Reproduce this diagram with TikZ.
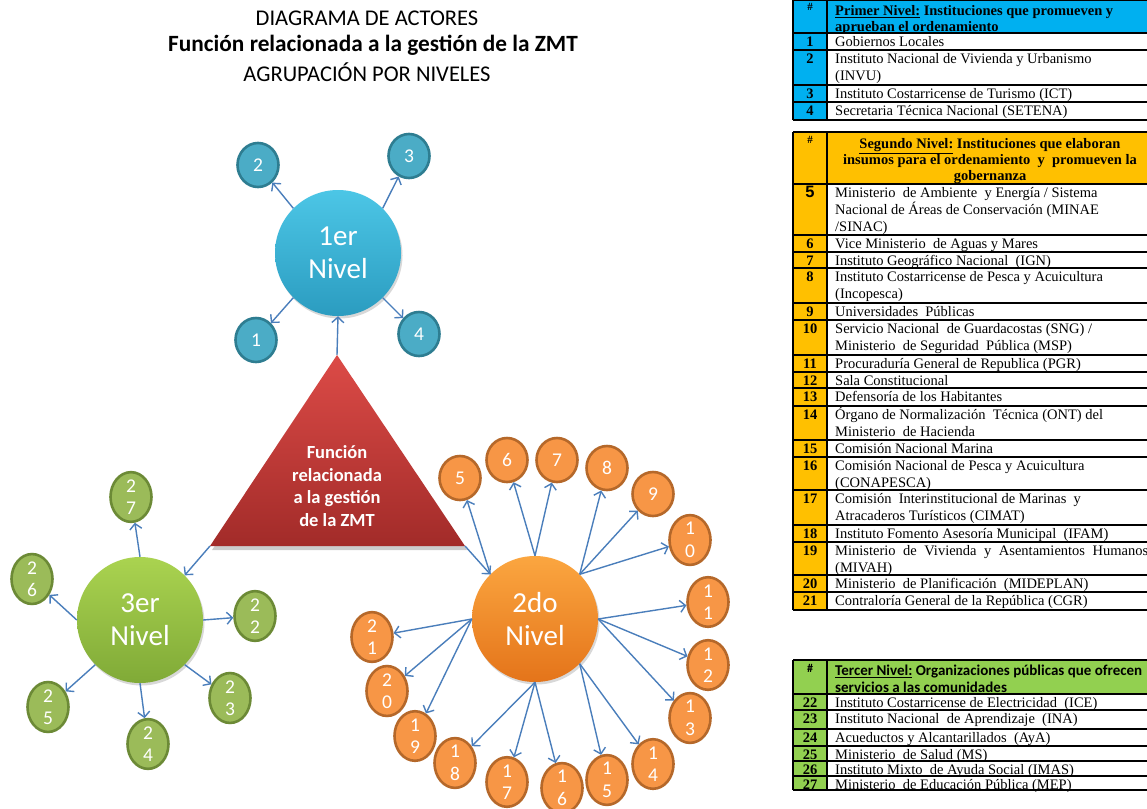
\documentclass[tikz,border=0pt]{standalone}
\usepackage{fontspec}
\setmainfont{Liberation Serif}
\newfontfamily\calib{Carlito}
\newfontfamily\arialf{Liberation Sans}
\usetikzlibrary{arrows.meta,shapes.geometric,shadows}
\definecolor{tblue}{HTML}{00B0F0}
\definecolor{torange}{HTML}{FFC000}
\definecolor{tgreen}{HTML}{92D050}
\definecolor{arrowblue}{HTML}{4A7EBB}
\definecolor{bTop}{HTML}{4CC6E6}
\definecolor{bBot}{HTML}{2B9CC0}
\definecolor{bFill}{HTML}{4BACC6}
\definecolor{bLine}{HTML}{2E7D91}
\definecolor{gTop}{HTML}{AAD350}
\definecolor{gBot}{HTML}{80AA37}
\definecolor{gFill}{HTML}{9BBB59}
\definecolor{gLine}{HTML}{6C8A36}
\definecolor{oTop}{HTML}{FBA640}
\definecolor{oBot}{HTML}{E4741A}
\definecolor{oFill}{HTML}{F79646}
\definecolor{oLine}{HTML}{B5682A}
\definecolor{rTop}{HTML}{DC4B47}
\definecolor{rBot}{HTML}{A22B29}

\newcommand\fl{\rule{0pt}{13.5pt}}
\newcommand\tabrow[6]{%
  \fill[#2] (793,#3) rectangle (827,#4);
  \fill[white] (827,#3) rectangle (1150,#4);
  \draw[rowline] (793,#3) -- (1150,#3);
  \draw[rowline] (793,#4) -- (1150,#4);
  \node[numtxt] (#1n) at (810,#3-0.5) {\fl #5};
  \node[bodytxt] (#1t) at (835,#3-0.5) {\fl #6};
}

\begin{document}
\begin{tikzpicture}[x=1pt,y=-1pt,
  rowline/.style={black, line width=1.2pt},
  frameline/.style={black, line width=2pt},
  numtxt/.style={anchor=north, inner sep=0pt, font=\bfseries\fontsize{14.5}{17}\selectfont},
  bodytxt/.style={anchor=north west, inner sep=0pt, align=left, font=\fontsize{14.5}{17}\selectfont},
  hdtxt/.style={inner sep=0pt, font=\bfseries\fontsize{14.5}{15.5}\selectfont},
  titletxt/.style={inner sep=0pt, font=\calib\fontsize{22.5}{27}\selectfont},
  arr/.style={draw=arrowblue, line width=1.4pt, -{Straight Barb[length=5.5pt,width=12pt,line width=1.4pt]}},
  bigball/.style={circle, minimum size=126pt, inner sep=0pt, text=white, align=center,
    font=\calib\fontsize{29}{33}\selectfont,
    drop shadow={opacity=0.3, shadow xshift=1.5pt, shadow yshift=-2.5pt}},
  smallball/.style={ellipse, minimum width=41pt, minimum height=44pt, inner sep=0pt,
    line width=2.6pt, text=white, align=center, font=\calib\fontsize{19.5}{22.5}\selectfont},
  bsm/.style={smallball, fill=bFill, draw=bLine},
  gsm/.style={smallball, fill=gFill, draw=gLine},
  osm/.style={smallball, fill=oFill, draw=oLine},
]
\useasboundingbox (0,0) rectangle (1147,808);
\clip (0,0) rectangle (1147,808);
\fill[white] (0,0) rectangle (1147,808);

% ---------- title ----------
\node[titletxt] (t1) at (367,18) {DIAGRAMA DE ACTORES};
\node[titletxt, font=\calib\bfseries\fontsize{23.3}{27}\selectfont] (t2) at (373,45) {Función relacionada a la gestión de la ZMT};
\node[titletxt] (t3) at (367,72) {AGRUPACIÓN POR NIVELES};

% ---------- triangle ----------
\coordinate (triT) at (337,355);
\coordinate (triL) at (210,546);
\coordinate (triR) at (465,546);
\fill[black, opacity=0.2] (339,359) -- (212,550) -- (467,550) -- cycle;
\shade[top color=rTop, bottom color=rBot] (triT) -- (triL) -- (triR) -- cycle;
\node[inner sep=0pt, text=white, align=center, font=\calib\bfseries\fontsize{18.5}{22.7}\selectfont] (triTxt) at (337,486) {Función\\relacionada\\a la gestión\\de la ZMT};

% ---------- big circles ----------
\node[bigball, top color=bTop, bottom color=bBot] (L1) at (338,253) {1er\\Nivel};
\node[bigball, top color=gTop, bottom color=gBot] (L3) at (140,620) {3er\\Nivel};
\node[bigball, top color=oTop, bottom color=oBot] (L2) at (535,619) {2do\\Nivel};

% ---------- first level ----------
\node[bsm] (b1) at (256,340) {1};
\node[bsm] (b2) at (258,165) {2};
\node[bsm] (b3) at (409,156) {3};
\node[bsm] (b4) at (419,334) {4};
\draw[arr] (L1.south west) -- (b1);
\draw[arr] (L1.north west) -- (b2);
\draw[arr] (L1.north east) -- (b3);
\draw[arr] (L1.south east) -- (b4);
\draw[arr] (triT) -- (L1.south);

% ---------- third level ----------
\node[gsm] (g22) at (255,616) {2\\2};
\node[gsm] (g23) at (230,698) {2\\3};
\node[gsm] (g24) at (148,744) {2\\4};
\node[gsm] (g25) at (48,707) {2\\5};
\node[gsm] (g26) at (32,579) {2\\6};
\node[gsm] (g27) at (131,497) {2\\7};
\draw[arr] (L3.east) -- (g22);
\draw[arr] (L3.south east) -- (g23);
\draw[arr] (L3.south) -- (g24);
\draw[arr] (L3.south west) -- (g25);
\draw[arr] (L3.west) -- (g26);
\draw[arr] (L3.north) -- (g27);
\draw[arr] (triL) -- (L3.north east);

% ---------- second level ----------
\node[osm] (o5) at (460,478) {5};
\node[osm] (o6) at (507,460) {6};
\node[osm] (o7) at (557,460) {7};
\node[osm] (o8) at (607,468) {8};
\node[osm] (o9) at (653,494) {9};
\node[osm] (o10) at (690,540) {1\\0};
\node[osm] (o11) at (708,602) {1\\1};
\node[osm] (o12) at (708,665) {1\\2};
\node[osm] (o13) at (690,718) {1\\3};
\node[osm] (o14) at (653,764) {1\\4};
\node[osm] (o15) at (607,780) {1\\5};
\node[osm] (o16) at (562,788) {1\\6};
\node[osm] (o17) at (507,782) {1\\7};
\node[osm] (o18) at (455,763) {1\\8};
\node[osm] (o19) at (415,736) {1\\9};
\node[osm] (o20) at (387,691) {2\\0};
\node[osm] (o21) at (372,637) {2\\1};
\draw[arr] (L2.north west) -- (o5);
\draw[arr] (L2.north) -- (o6);
\draw[arr] (L2.north) -- (o7);
\draw[arr] (L2.north east) -- (o8);
\draw[arr] (L2.north east) -- (o9);
\draw[arr] (L2.north east) -- (o10);
\draw[arr] (L2.east) -- (o11);
\draw[arr] (L2.east) -- (o12);
\draw[arr] (L2.east) -- (o13);
\draw[arr] (L2.south east) -- (o14);
\draw[arr] (L2.south east) -- (o15);
\draw[arr] (L2.south) -- (o16);
\draw[arr] (L2.south) -- (o17);
\draw[arr] (L2.south) -- (o18);
\draw[arr] (L2.west) -- (o19);
\draw[arr] (L2.west) -- (o20);
\draw[arr] (L2.west) -- (o21);
\draw[arr] (triR) -- (L2.north west);

% ---------- table 1 ----------
\fill[tblue] (793,0) rectangle (1150,33);
\node[inner sep=0pt, anchor=north, font=\bfseries\fontsize{11}{13}\selectfont] (h1n) at (810,3) {\#};
\node[hdtxt, anchor=north west, align=left] (h1t) at (835,2) {\fl\underline{Primer Nivel:} Instituciones que promueven y\\aprueban el ordenamiento};
\tabrow{r1}{tblue}{33}{50}{1}{Gobiernos Locales}
\tabrow{r2}{tblue}{50}{85}{2}{Instituto Nacional de Vivienda y Urbanismo\\(INVU)}
\tabrow{r3}{tblue}{85}{102}{3}{Instituto Costarricense de Turismo (ICT)}
\tabrow{r4}{tblue}{102}{120}{4}{Secretaria Técnica Nacional (SETENA)}
\draw[frameline] (793,0) -- (1150,0);
\draw[frameline] (793,33) -- (1150,33);
\draw[frameline] (793,120) -- (1150,120);
\draw[frameline] (793,0) -- (793,120);
\draw[frameline] (827,0) -- (827,120);

% ---------- table 2 ----------
\fill[torange] (793,132) rectangle (1150,184);
\node[inner sep=0pt, anchor=north, font=\bfseries\fontsize{11}{13}\selectfont] (h2n) at (810,136) {\#};
\node[hdtxt, anchor=north, align=center, font=\bfseries\fontsize{14.5}{16}\selectfont] (h2t) at (990,134.5) {\fl\underline{Segundo Nivel:} Instituciones que elaboran\\insumos para el ordenamiento \ y \ promueven la\\gobernanza};
\tabrow{r5}{torange}{184}{235}{{\arialf\fontsize{16.5}{17}\selectfont 5}}{Ministerio \ de Ambiente \ y Energía / Sistema\\Nacional de Áreas de Conservación (MINAE\\/SINAC)}
\tabrow{r6}{torange}{235}{252}{6}{Vice Ministerio \ de Aguas y Mares}
\tabrow{r7}{torange}{252}{268}{7}{Instituto Geográfico Nacional \ (IGN)}
\tabrow{r8}{torange}{268}{303}{8}{Instituto Costarricense de Pesca y Acuicultura\\(Incopesca)}
\tabrow{r9}{torange}{303}{320}{9}{Universidades \ Públicas}
\tabrow{r10}{torange}{320}{355}{10}{Servicio Nacional \ de Guardacostas (SNG) /\\Ministerio \ de Seguridad \ Pública (MSP)}
\tabrow{r11}{torange}{355}{372}{11}{Procuraduría General de Republica (PGR)}
\tabrow{r12}{torange}{372}{388}{12}{Sala Constitucional}
\tabrow{r13}{torange}{388}{406}{13}{Defensoría de los Habitantes}
\tabrow{r14}{torange}{406}{440}{14}{Órgano de Normalización \ Técnica (ONT) del\\Ministerio \ de Hacienda}
\tabrow{r15}{torange}{440}{457}{15}{Comisión Nacional Marina}
\tabrow{r16}{torange}{457}{490}{16}{Comisión Nacional de Pesca y Acuicultura\\(CONAPESCA)}
\tabrow{r17}{torange}{490}{525}{17}{Comisión \ Interinstitucional de Marinas \ y\\Atracaderos Turísticos (CIMAT)}
\tabrow{r18}{torange}{525}{542}{18}{Instituto Fomento Asesoría Municipal \ (IFAM)}
\tabrow{r19}{torange}{542}{575}{19}{\makebox[313pt][s]{Ministerio de Vivienda y Asentamientos Humanos}\\(MIVAH)}
\tabrow{r20}{torange}{575}{592}{20}{Ministerio \ de Planificación \ (MIDEPLAN)}
\tabrow{r21}{torange}{592}{610}{21}{Contraloría General de la República (CGR)}
\draw[frameline] (793,132) -- (1150,132);
\draw[frameline] (793,184) -- (1150,184);
\draw[frameline] (793,610) -- (1150,610);
\draw[frameline] (793,132) -- (793,610);
\draw[frameline] (827,132) -- (827,610);

% ---------- table 3 ----------
\fill[tgreen] (793,660) rectangle (1150,694);
\node[inner sep=0pt, anchor=north, font=\calib\bfseries\fontsize{12}{13}\selectfont] (h3n) at (810,664) {\#};
\node[hdtxt, anchor=north west, align=left, font=\calib\bfseries\fontsize{15}{17}\selectfont] (h3t) at (835,661.5) {\fl\underline{Tercer Nivel:} Organizaciones públicas que ofrecen\\servicios a las comunidades};
\tabrow{r22}{tgreen}{694}{710}{22}{Instituto Costarricense de Electricidad \ (ICE)}
\tabrow{r23}{tgreen}{710}{729}{23}{Instituto Nacional \ de Aprendizaje \ (INA)}
\tabrow{r24}{tgreen}{729}{746}{24}{Acueductos y Alcantarillados \ (AyA)}
\tabrow{r25}{tgreen}{746}{761}{25}{Ministerio \ de Salud (MS)}
\tabrow{r26}{tgreen}{761}{776}{26}{Instituto Mixto \ de Ayuda Social (IMAS)}
\tabrow{r27}{tgreen}{776}{790}{27}{Ministerio \ de Educación Pública (MEP)}
\draw[frameline] (793,660) -- (1150,660);
\draw[frameline] (793,694) -- (1150,694);
\draw[frameline] (793,790) -- (1150,790);
\draw[frameline] (793,660) -- (793,790);
\draw[frameline] (827,660) -- (827,790);
\end{tikzpicture}
\end{document}
